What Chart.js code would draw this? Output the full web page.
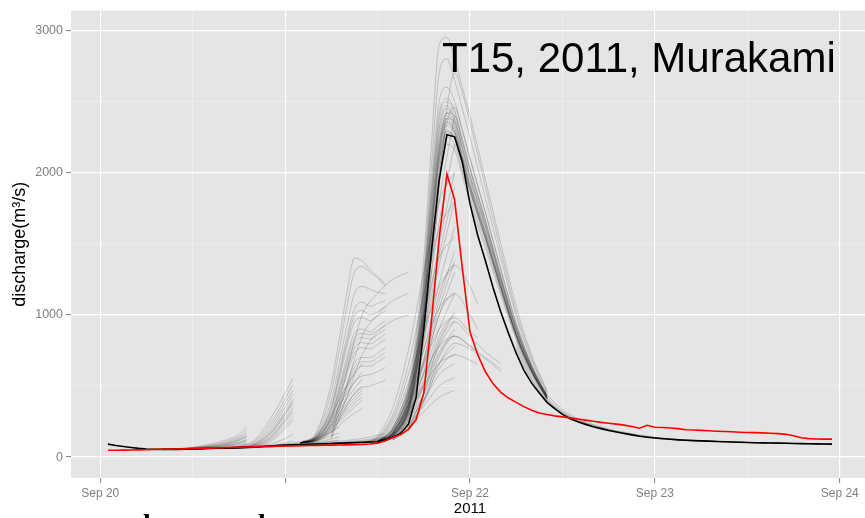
<!DOCTYPE html>
<html>
<head>
<meta charset="utf-8">
<script src="https://cdn.jsdelivr.net/npm/chart.js@4.4.1/dist/chart.umd.min.js"></script>
<style>
  html, body { margin: 0; padding: 0; background: #fff; overflow: hidden; }
  #wrap { position: relative; width: 865px; height: 518px; overflow: hidden; }
  #chart { position: absolute; left: 0; top: 0; width: 880px; height: 518px; }
  .cut { position: absolute; top: 510px; font: bold 28px "Liberation Serif"; line-height: 28px; color: #000; }
</style>
</head>
<body>
<div id="wrap">
  <canvas id="chart" width="880" height="518"></canvas>
  <span class="cut" style="left:143px">l</span>
  <span class="cut" style="left:258px">l</span>
</div>
<script>
// hours counted from Sep 20 00:00
const xTickHours = [0, 12, 24, 36, 48, 60, 72, 84, 96];
const xTickLabels = ['Sep 20', '', '', '', 'Sep 22', '', 'Sep 23', '', 'Sep 24'];
const yTickValues = [0, 500, 1000, 1500, 2000, 2500, 3000];
const yTickLabels = ['0', '', '1000', '', '2000', '', '3000'];

// observed discharge, hourly from hour 1
const obsFlow = [
  48, 48, 49, 50, 51, 52, 53, 55, 56, 57,
  58, 60, 62, 63, 65, 66, 68, 70, 71, 72,
  74, 75, 77, 78, 79, 80, 81, 82, 83, 84,
  85, 86, 87, 89, 92, 98, 115, 138, 158, 195,
  262, 450, 960, 1540, 1990, 1810, 1330, 880, 720, 600,
  515, 455, 415, 385, 355, 330, 310, 300, 290, 283,
  276, 268, 260, 252, 244, 238, 232, 225, 215, 203,
  224, 210, 208, 205, 200, 192, 190, 188, 185, 182,
  180, 178, 175, 173, 172, 170, 168, 165, 160, 150,
  136, 130, 127, 126, 126
];

// simulated discharge (black line), hourly from hour 1
const simFlow = [
  91, 82, 74, 67, 61, 57, 55, 54, 54, 54,
  55, 56, 58, 60, 62, 64, 66, 68, 70, 72,
  75, 78, 81, 84, 86, 88, 90, 92, 94, 96,
  98, 100, 102, 104, 106, 108, 118, 140, 168, 230,
  420, 900, 1450, 1950, 2266, 2252, 2077, 1780, 1560, 1380,
  1190, 1020, 870, 730, 610, 520, 450, 385, 340, 300,
  270, 248, 230, 214, 200, 187, 176, 166, 156, 147,
  140, 134, 129, 125, 121, 118, 116, 114, 112, 110,
  108, 106, 104, 103, 101, 100, 99, 98, 97, 96,
  95, 94, 93, 92, 91
];

// ensemble forecasts, one group per issue time
const ens0Hours = [10, 16, 22, 28, 34, 37];
const ens0Runs = [
  [56, 66, 82, 102, 130, 165],
  [56, 63, 76, 95, 118, 145],
  [56, 61, 72, 88, 105, 125],
  [56, 60, 70, 84, 98, 112],
  [56, 62, 74, 92, 112, 135]
];

const ens1Hours = [8, 10, 12, 14, 16, 18, 19];
const ens1Runs = [
  [55, 60, 70, 88, 115, 160, 217],
  [55, 59, 67, 82, 105, 145, 190],
  [55, 58, 65, 78, 98, 135, 170],
  [55, 58, 64, 75, 92, 125, 155],
  [55, 57, 62, 72, 86, 115, 140],
  [55, 57, 61, 69, 80, 105, 125],
  [55, 56, 60, 66, 76, 95, 112],
  [55, 56, 59, 64, 72, 88, 100],
  [55, 56, 58, 62, 68, 80, 90],
  [55, 57, 63, 73, 88, 120, 148],
  [55, 56, 60, 67, 78, 100, 118]
];

const ens2Hours = [16, 18, 20, 22, 24, 25];
const ens2Runs = [
  [60, 75, 120, 260, 450, 552],
  [60, 72, 110, 230, 410, 510],
  [60, 70, 100, 205, 380, 470],
  [60, 68, 95, 185, 350, 440],
  [60, 67, 90, 170, 320, 405],
  [60, 66, 86, 155, 295, 375],
  [60, 65, 82, 140, 270, 345],
  [60, 64, 78, 125, 245, 310],
  [60, 63, 75, 115, 220, 280],
  [60, 62, 72, 105, 200, 259],
  [60, 61, 68, 90, 130, 160],
  [60, 61, 66, 80, 100, 115],
  [60, 66, 88, 162, 305, 390],
  [60, 64, 80, 132, 258, 328]
];

const ens2bHours = [20, 23, 26, 29, 31];
const ens2bRuns = [
  [70, 85, 110, 150, 210],
  [70, 80, 100, 130, 170],
  [70, 78, 92, 115, 140],
  [70, 76, 88, 105, 120]
];

const ens3aHours = [26, 28, 30, 32, 34];
const ens3aRuns = [
  [100, 150, 300, 500, 657],
  [100, 140, 270, 450, 600],
  [100, 135, 250, 410, 550],
  [100, 130, 230, 380, 500],
  [100, 125, 210, 340, 450],
  [100, 120, 190, 300, 400],
  [100, 115, 175, 270, 343],
  [100, 128, 220, 360, 475],
  [100, 122, 200, 320, 425]
];

const ens3Hours = [26, 28, 30, 31, 32, 33, 34, 35, 36, 37];
const ens3Runs = [
  [100, 170, 520, 820, 1150, 1400, 1380, 1320, 1270, 1217],
  [100, 160, 460, 740, 1050, 1300, 1340, 1300, 1260, 1200],
  [100, 150, 400, 650, 920, 1150, 1200, 1180, 1160, 1150],
  [100, 145, 360, 590, 840, 1040, 1090, 1060, 1080, 1100],
  [100, 140, 330, 540, 770, 950, 980, 960, 990, 1030],
  [100, 135, 300, 490, 700, 870, 900, 880, 920, 960],
  [100, 130, 280, 450, 640, 800, 840, 830, 860, 900],
  [100, 125, 260, 410, 580, 730, 770, 760, 790, 830],
  [100, 120, 240, 370, 520, 660, 700, 700, 730, 770],
  [100, 115, 220, 340, 470, 600, 640, 640, 670, 700],
  [100, 112, 200, 300, 420, 530, 570, 580, 600, 630],
  [100, 110, 180, 260, 360, 450, 490, 500, 520, 540],
  [100, 142, 345, 565, 805, 995, 1030, 1000, 1020, 1060],
  [100, 132, 290, 470, 670, 835, 870, 860, 890, 930],
  [100, 128, 270, 430, 610, 765, 805, 795, 825, 865],
  [100, 118, 230, 355, 495, 630, 670, 670, 700, 735]
];

const ens3cHours = [30, 32, 34, 36, 38, 40];
const ens3cRuns = [
  [150, 600, 1000, 1150, 1250, 1300],
  [140, 500, 850, 1000, 1100, 1150],
  [130, 420, 720, 880, 960, 1000]
];

const ens4Hours = [36, 38, 40, 41, 42, 43, 44, 45, 46, 47, 48, 50, 52, 54, 56, 58];
const ens4Runs = [
  [110, 190, 480, 850, 1400, 2200, 2900, 2950, 2800, 2600, 2400, 1950, 1500, 1060, 720, 470],
  [110, 180, 450, 800, 1300, 2050, 2700, 2800, 2650, 2450, 2250, 1820, 1400, 990, 680, 450],
  [108, 175, 430, 760, 1250, 1950, 2500, 2600, 2500, 2300, 2100, 1720, 1320, 940, 650, 435],
  [106, 170, 410, 720, 1200, 1850, 2380, 2500, 2420, 2220, 2020, 1660, 1270, 910, 635, 428],
  [105, 165, 390, 690, 1150, 1780, 2300, 2450, 2360, 2160, 1960, 1610, 1240, 890, 625, 422],
  [104, 160, 370, 660, 1100, 1700, 2220, 2400, 2320, 2120, 1920, 1580, 1215, 870, 615, 418],
  [102, 150, 330, 580, 980, 1550, 2100, 2380, 2360, 2180, 1980, 1630, 1250, 895, 628, 424],
  [102, 155, 350, 630, 1050, 1640, 2150, 2350, 2280, 2090, 1900, 1560, 1200, 860, 610, 415],
  [101, 150, 340, 600, 1000, 1580, 2080, 2300, 2240, 2050, 1860, 1530, 1180, 850, 602, 412],
  [100, 148, 320, 570, 950, 1500, 2000, 2250, 2200, 2010, 1820, 1500, 1160, 840, 596, 408],
  [100, 145, 310, 540, 900, 1430, 1930, 2200, 2160, 1980, 1790, 1470, 1140, 830, 590, 405],
  [100, 145, 300, 520, 870, 1400, 1950, 2350, 2460, 2300, 2100, 1720, 1320, 940, 650, 432],
  [100, 140, 280, 480, 800, 1300, 1900, 2450, 2700, 2560, 2350, 1900, 1450, 1020, 700, 455],
  [104, 165, 380, 680, 1120, 1740, 2260, 2420, 2340, 2140, 1940, 1590, 1225, 880, 620, 420],
  [103, 160, 365, 650, 1080, 1680, 2200, 2380, 2300, 2110, 1910, 1570, 1210, 870, 612, 416],
  [103, 158, 360, 640, 1070, 1660, 2180, 2360, 2290, 2100, 1900, 1555, 1200, 862, 608, 414],
  [102, 155, 345, 615, 1030, 1610, 2120, 2330, 2270, 2080, 1880, 1545, 1190, 858, 605, 412],
  [101, 152, 335, 595, 995, 1570, 2070, 2290, 2240, 2060, 1870, 1535, 1185, 852, 600, 410],
  [105, 168, 400, 700, 1170, 1800, 2330, 2470, 2380, 2180, 1980, 1625, 1250, 900, 630, 425],
  [106, 172, 420, 740, 1220, 1880, 2420, 2520, 2440, 2240, 2040, 1670, 1280, 920, 640, 430],
  [100, 150, 330, 590, 1000, 1600, 2150, 2420, 2400, 2220, 2020, 1650, 1260, 905, 632, 426],
  [100, 146, 315, 560, 940, 1480, 2010, 2280, 2250, 2070, 1880, 1540, 1185, 855, 603, 411]
];

const ens5Hours = [36, 38, 40, 42, 44, 46];
const ens5Runs = [
  [110, 210, 500, 1000, 1800, 2400],
  [110, 205, 480, 950, 1650, 2200],
  [110, 200, 450, 900, 1500, 2000],
  [110, 190, 420, 820, 1350, 1800],
  [110, 180, 390, 750, 1220, 1620],
  [110, 175, 370, 690, 1100, 1450],
  [110, 170, 350, 640, 1000, 1300],
  [110, 165, 330, 590, 900, 1150],
  [110, 160, 310, 540, 820, 1020],
  [110, 155, 290, 490, 740, 900],
  [110, 150, 270, 440, 660, 780],
  [110, 145, 250, 400, 580, 660],
  [110, 140, 230, 360, 500, 560],
  [110, 135, 210, 320, 420, 470],
  [110, 195, 440, 860, 1420, 1900],
  [110, 172, 360, 665, 1050, 1380],
  [110, 158, 300, 515, 780, 960]
];

const ens5bHours = [34, 36, 38, 40, 42, 44, 46];
const ens5bRuns = [
  [100, 150, 350, 750, 1300, 1800, 2000],
  [100, 140, 300, 650, 1150, 1600, 1800],
  [100, 135, 280, 580, 1000, 1400, 1550],
  [100, 130, 260, 520, 880, 1200, 1350],
  [100, 125, 240, 460, 760, 1050, 1150],
  [100, 120, 220, 410, 660, 900, 1000],
  [100, 118, 200, 370, 580, 780, 860],
  [100, 115, 185, 330, 500, 660, 720]
];

const ens6Hours = [38, 40, 42, 44, 46, 48, 49];
const ens6Runs = [
  [120, 260, 600, 1000, 1150, 1000, 900],
  [120, 240, 520, 850, 980, 880, 840],
  [120, 220, 450, 720, 850, 780, 740],
  [120, 200, 400, 620, 720, 680, 650],
  [120, 280, 680, 1150, 1350, 1200, 1080]
];

const ens7Hours = [40, 42, 44, 46, 48, 50, 52];
const ens7Runs = [
  [200, 450, 800, 950, 850, 740, 657],
  [200, 400, 700, 850, 780, 700, 620],
  [180, 380, 650, 800, 760, 690, 600]
];

const ens8Hours = [54, 56, 58, 60, 62, 64, 66, 68, 70, 72, 76, 80, 85, 90, 95];
const ens8Runs = [
  [800, 580, 420, 320, 262, 224, 194, 172, 152, 138, 120, 111, 102, 96, 91],
  [760, 550, 400, 310, 255, 218, 190, 168, 150, 136, 119, 110, 101, 96, 91],
  [820, 600, 440, 335, 270, 230, 198, 175, 155, 140, 121, 112, 102, 97, 92],
  [740, 540, 395, 305, 252, 216, 188, 167, 149, 135, 118, 110, 101, 95, 90],
  [780, 565, 410, 315, 258, 221, 192, 170, 151, 137, 119, 110, 101, 96, 91]
];

const font = '"Liberation Sans", Arial, sans-serif';

function toPoints(hours, values) {
  return values.map((v, i) => ({ x: hours[i], y: v }));
}

const datasets = [
  {
    data: obsFlow.map((v, i) => ({ x: i + 1, y: v })),
    borderColor: '#FF0000',
    borderWidth: 1.6
  },
  {
    data: simFlow.map((v, i) => ({ x: i + 1, y: v })),
    borderColor: '#000000',
    borderWidth: 1.6
  }
];

const groups = [
  [ens0Hours, ens0Runs], [ens1Hours, ens1Runs], [ens2Hours, ens2Runs],
  [ens2bHours, ens2bRuns], [ens3aHours, ens3aRuns], [ens3Hours, ens3Runs],
  [ens3cHours, ens3cRuns], [ens4Hours, ens4Runs], [ens5Hours, ens5Runs],
  [ens5bHours, ens5bRuns], [ens6Hours, ens6Runs], [ens7Hours, ens7Runs],
  [ens8Hours, ens8Runs]
];
groups.forEach(([hours, runs]) => {
  runs.forEach(run => {
    datasets.push({
      data: toPoints(hours, run),
      borderColor: 'rgba(0, 0, 0, 0.17)',
      borderWidth: 1,
      cubicInterpolationMode: 'monotone'
    });
  });
});

// grey panel behind everything
const panelBg = {
  id: 'panelBg',
  beforeDraw(chart) {
    const { ctx, chartArea } = chart;
    ctx.save();
    ctx.fillStyle = '#E5E5E5';
    ctx.fillRect(chartArea.left, chartArea.top, chartArea.right - chartArea.left, chartArea.bottom - chartArea.top);
    ctx.restore();
  }
};

// big label inside the panel
const caption = {
  id: 'caption',
  afterDatasetsDraw(chart) {
    const ctx = chart.ctx;
    ctx.save();
    ctx.font = '42px ' + font;
    ctx.fillStyle = '#000';
    ctx.textAlign = 'left';
    ctx.textBaseline = 'alphabetic';
    ctx.fillText('T15, 2011, Murakami', 442, 72);
    ctx.restore();
  }
};

const isMajorX = v => v % 24 === 0;
const isMajorY = v => v % 1000 === 0;

new Chart(document.getElementById('chart'), {
  type: 'line',
  data: { datasets: datasets },
  options: {
    responsive: false,
    animation: false,
    layout: { padding: { top: 8, right: 11, left: 0, bottom: 0 } },
    elements: {
      point: { radius: 0 },
      line: { tension: 0 }
    },
    plugins: {
      legend: { display: false },
      tooltip: { enabled: false }
    },
    scales: {
      x: {
        type: 'linear',
        min: -3.8,
        max: 99.8,
        afterBuildTicks: (scale) => { scale.ticks = xTickHours.map(v => ({ value: v })); },
        afterFit: (scale) => { scale.height = 40; },
        border: { display: false },
        grid: {
          color: (c) => isMajorX(c.tick.value) ? '#FFFFFF' : '#F2F2F2',
          lineWidth: (c) => isMajorX(c.tick.value) ? 1.2 : 0.6,
          tickColor: (c) => isMajorX(c.tick.value) ? '#7F7F7F' : 'rgba(0,0,0,0)',
          tickLength: 5,
          tickWidth: 1
        },
        ticks: {
          autoSkip: false,
          maxRotation: 0,
          padding: 3,
          color: '#7F7F7F',
          font: { family: font, size: 12 },
          callback: (value, index) => xTickLabels[index]
        },
        title: {
          display: true,
          text: '2011',
          color: '#000',
          font: { family: font, size: 15 },
          padding: { top: 0, bottom: 0 }
        }
      },
      y: {
        min: -147,
        max: 3140,
        afterBuildTicks: (scale) => { scale.ticks = yTickValues.map(v => ({ value: v })); },
        afterFit: (scale) => { scale.width = 71; },
        border: { display: false },
        grid: {
          color: (c) => isMajorY(c.tick.value) ? '#FFFFFF' : '#F2F2F2',
          lineWidth: (c) => isMajorY(c.tick.value) ? 1.2 : 0.6,
          tickColor: (c) => isMajorY(c.tick.value) ? '#7F7F7F' : 'rgba(0,0,0,0)',
          tickLength: 5,
          tickWidth: 1
        },
        ticks: {
          autoSkip: false,
          padding: 3,
          color: '#7F7F7F',
          font: { family: font, size: 12.5 },
          callback: (value, index) => yTickLabels[index]
        },
        title: {
          display: true,
          text: 'discharge(m³/s)',
          color: '#000',
          font: { family: font, size: 18 },
          padding: { top: 9, bottom: 0 }
        }
      }
    }
  },
  plugins: [panelBg, caption]
});
</script>
</body>
</html>
